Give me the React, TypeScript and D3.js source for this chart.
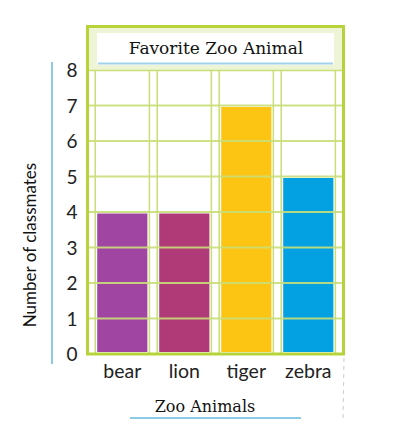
import React from 'react';
import * as d3 from 'd3';

const WIDTH = 396;
const HEIGHT = 442;
const ANIMALS = ['bear', 'lion', 'tiger', 'zebra'];
const COUNTS = [4, 4, 7, 5];
const COLORS = ['#a046a2', '#b03a78', '#fdc513', '#03a1e2'];
const TICKS = [0, 1, 2, 3, 4, 5, 6, 7, 8];
const GREEN = '#b6d43a';
const GRID = '#c9de78';
const SANS = 'Lato, sans-serif';
const SERIF = '"DejaVu Serif", serif';

export default function App() {
    const x = d3.scaleBand()
        .domain(ANIMALS)
        .range([91, 339.6])
        .paddingInner(0.11)
        .paddingOuter(0.06);

    const y = d3.scaleLinear()
        .domain([0, 8])
        .range([354, 70]);

    const bw = x.bandwidth();

    return (
        <svg width={WIDTH} height={HEIGHT} style={{ position: 'absolute', left: 0, top: 0, background: '#fff' }}>
            {/* title band */}
            <rect x={88} y={27} width={255} height={44} fill="#eef4d6" />
            <rect x={97} y={33} width={237} height={32} fill="#fff" />
            <line x1={98} x2={333} y1={63.5} y2={63.5} stroke="#9fd2e8" strokeWidth={2} />
            <text x={216} y={54} textAnchor="middle" style={{ fontFamily: SERIF, fontSize: 17 }} fill="#111">Favorite Zoo Animal</text>

            {/* column lines */}
            {ANIMALS.map(a => (
                <g key={'c' + a}>
                    <line x1={x(a)! + 0.5} x2={x(a)! + 0.5} y1={71} y2={353} stroke={GRID} strokeWidth={1.5} />
                    <line x1={x(a)! + bw - 0.5} x2={x(a)! + bw - 0.5} y1={71} y2={353} stroke={GRID} strokeWidth={1.5} />
                </g>
            ))}

            {/* bars */}
            {ANIMALS.map((a, i) => (
                <rect key={'b' + a} x={x(a)! + 2.5} y={y(COUNTS[i]) + 1.5} width={bw - 5} height={y(0) - y(COUNTS[i]) - 3.5} fill={COLORS[i]} />
            ))}

            {/* horizontal grid lines */}
            {TICKS.slice(1, 8).map(t => (
                <line key={'h' + t} x1={89} x2={342} y1={y(t)} y2={y(t)} stroke={GRID} strokeOpacity={0.9} strokeWidth={1.8} />
            ))}
            <line x1={89} x2={342} y1={70.5} y2={70.5} stroke={GRID} strokeWidth={1.5} />

            {/* outer frame */}
            <rect x={87.5} y={26.5} width={256} height={327.5} fill="none" stroke={GREEN} strokeWidth={3} />

            {/* y axis */}
            {TICKS.map(t => (
                <text key={'t' + t} x={72} y={y(t) + 7} textAnchor="middle" style={{ fontFamily: SANS, fontSize: 19 }} fill="#222">{t}</text>
            ))}
            <line x1={52} x2={52} y1={62} y2={364} stroke="#8ccbe6" strokeWidth={2} />
            <text transform="translate(36,245) rotate(-90)" textAnchor="middle" style={{ fontFamily: SANS, fontSize: 17 }} fill="#111">Number of classmates</text>

            {/* x axis */}
            {ANIMALS.map(a => (
                <text key={'x' + a} x={x(a)! + bw / 2} y={378} textAnchor="middle" style={{ fontFamily: SANS, fontSize: 19.5 }} fill="#222">{a}</text>
            ))}
            <text x={205} y={412} textAnchor="middle" style={{ fontFamily: SERIF, fontSize: 16 }} fill="#111">Zoo Animals</text>
            <line x1={130} x2={301} y1={418} y2={418} stroke="#8ccbe6" strokeWidth={2} />
            <line x1={344} x2={343} y1={358} y2={420} stroke="#ccc" strokeWidth={1} strokeDasharray="4,4" />
        </svg>
    );
}
